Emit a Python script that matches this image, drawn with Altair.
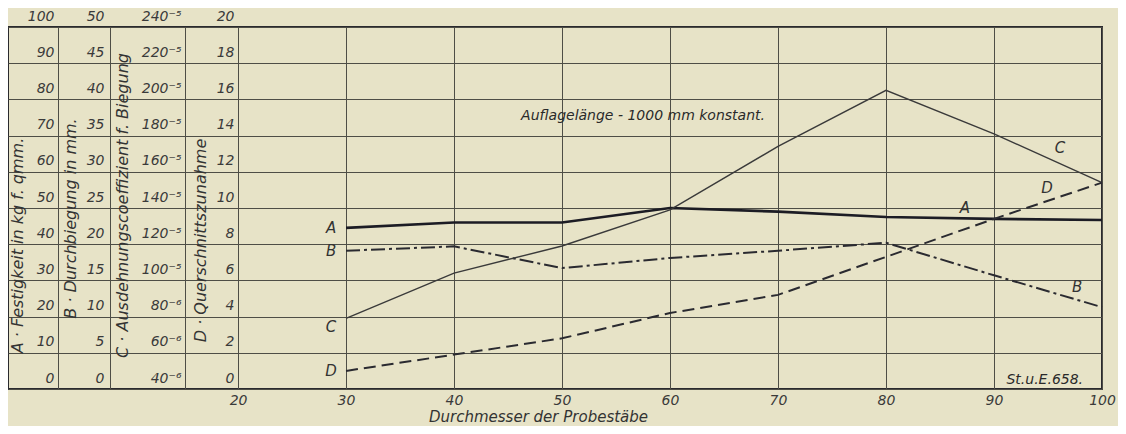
import altair as alt
import pandas as pd

# ---- data ----
durchmesser = [30, 40, 50, 60, 70, 80, 90, 100]
festigkeit_A = [44.5, 46.0, 46.0, 50.0, 49.0, 47.5, 47.0, 46.7]        # kg/qmm
durchbiegung_B = [19.1, 19.7, 16.7, 18.1, 19.1, 20.2, 15.7, 11.3]      # mm
ausdehnung_C = [79, 104, 119, 139, 174, 205, 181, 154]                  # x10^-6
querschnitt_D = [1.0, 1.9, 2.8, 4.2, 5.2, 7.3, 9.4, 11.4]               # %

x_ticks = [20, 30, 40, 50, 60, 70, 80, 90, 100]
column_lines = [3.33, 8.14, 15.1]   # separators of the label columns

# curve letters: (x, value in the series' own units)
lab_A = {"x": [30, 87.3], "y": [44.5, 50.0]}
lab_B = {"x": [30, 97.7], "y": [19.1, 14.1]}
lab_C = {"x": [30, 96.1], "y": [79, 173]}
lab_D = {"x": [30, 94.9], "y": [1.0, 11.1]}

notes_text = ["Auflagelänge - 1000 mm konstant.", "St.u.E.658."]
notes_x = [57.5, 94.7]
notes_y = [75.4, 2.5]

titles = {
    "A": "A · Festigkeit in kg f. qmm.",
    "B": "B · Durchbiegung in mm.",
    "C": "C · Ausdehnungscoeffizient f. Biegung",
    "D": "D · Querschnittszunahme",
}

FONT = "DejaVu Sans"
INK = "#2a2a2e"
BG = "#e7e3c7"
GRID = "#4e4e46"
XDOM = [-1.3, 100]

x_enc = alt.X(
    "d:Q",
    scale=alt.Scale(domain=XDOM, nice=False, zero=False),
    axis=alt.Axis(
        values=column_lines + x_ticks,
        labelExpr="datum.value >= 20 ? datum.label : ''",
        grid=True, gridColor=GRID, gridWidth=1, gridOpacity=1,
        domain=False, ticks=False,
        labelPadding=4, labelFontSize=14, labelFont=FONT, labelFontStyle="italic",
        labelColor="#3a3a3a", labelFlush=False,
        title="Durchmesser der Probestäbe", titleFont=FONT, titleFontStyle="italic",
        titleFontWeight="normal", titleFontSize=15, titleColor="#333333",
        titleX=530, titleY=27, titleBaseline="middle",
    ),
)


def y_axis(offset, values, title, title_x, title_y, grid=False, label_expr=None):
    kw = dict(
        orient="left", offset=offset, values=values,
        grid=grid, gridColor=GRID, gridWidth=1, gridOpacity=1,
        domain=False, ticks=False, labelPadding=4,
        labelBaseline="bottom", labelOffset=-4, labelFlush=False, labelOverlap=False,
        labelFontSize=14, labelFont=FONT, labelFontStyle="italic", labelColor="#3a3a3a",
        title=title, titleAngle=270, titleX=title_x, titleY=title_y,
        titleAlign="center", titleBaseline="middle",
        titleFont=FONT, titleFontStyle="italic", titleFontWeight="normal",
        titleFontSize=16, titleColor="#333333",
    )
    if label_expr:
        kw["labelExpr"] = label_expr
    return alt.Axis(**kw)


def series_layers(values, domain, axis, dash, width, color, lab, key):
    df = pd.DataFrame({"d": durchmesser, "v": values})
    sc = alt.Scale(domain=domain, nice=False, zero=False)
    line_kw = dict(strokeWidth=width, color=color)
    if dash:
        line_kw["strokeDash"] = dash
    line = alt.Chart(df).mark_line(**line_kw).encode(
        x=x_enc, y=alt.Y("v:Q", scale=sc, axis=axis)
    )
    ldf = pd.DataFrame({"d": lab["x"], "v": lab["y"], "t": [key, key]})
    offsets = [(-15, 9 if key == "C" else 0), (0, 0)]
    texts = []
    for i in range(len(ldf)):
        sub = ldf.iloc[[i]]
        texts.append(
            alt.Chart(sub).mark_text(
                font=FONT, fontStyle="italic", fontSize=15, color="#333333",
                dx=offsets[i][0], dy=offsets[i][1],
            ).encode(
                x=alt.X("d:Q", scale=alt.Scale(domain=XDOM, nice=False, zero=False)),
                y=alt.Y("v:Q", scale=sc, axis=None),
                text="t:N",
            )
        )
    return [line] + texts


layers = []
layers += series_layers(
    festigkeit_A, [0, 100],
    y_axis(-50, list(range(0, 101, 10)), titles["A"], -41, 218, grid=True),
    None, 2.6, "#1c1c24", lab_A, "A",
)
layers += series_layers(
    durchbiegung_B, [0, 50],
    y_axis(-100, list(range(0, 51, 5)), titles["B"], -38, 191),
    [14, 4, 3, 4], 2.0, "#2a2a30", lab_B, "B",
)
layers += series_layers(
    ausdehnung_C, [40, 240],
    y_axis(-177, list(range(40, 241, 20)), titles["C"], -63, 178,
           label_expr="datum.value < 100 ? datum.value + '⁻⁶' : datum.value + '⁻⁵'"),
    None, 1.4, "#3a3a3a", lab_C, "C",
)
layers += series_layers(
    querschnitt_D, [0, 20],
    y_axis(-230, list(range(0, 21, 2)), titles["D"], -38, 213),
    [12, 6], 2.0, "#2a2a30", lab_D, "D",
)

notes_df = pd.DataFrame({"d": notes_x, "v": notes_y, "t": notes_text})
notes = alt.Chart(notes_df).mark_text(
    font=FONT, fontStyle="italic", fontSize=14, color="#2a2a2a"
).encode(
    x=alt.X("d:Q", scale=alt.Scale(domain=XDOM, nice=False, zero=False)),
    y=alt.Y("v:Q", scale=alt.Scale(domain=[0, 100], nice=False, zero=False), axis=None),
    text="t:N",
)
layers.append(notes)

chart = alt.layer(*layers).resolve_scale(y="independent").properties(
    width=1094, height=362,
    autosize=alt.AutoSizeParams(type="none"),
    padding={"left": 0, "top": 19, "right": 16, "bottom": 37},
    background=BG,
).configure_view(
    stroke=INK, strokeWidth=2, fill=BG
)

chart.save("out.html", embed_options={"renderer": "svg", "actions": False})
